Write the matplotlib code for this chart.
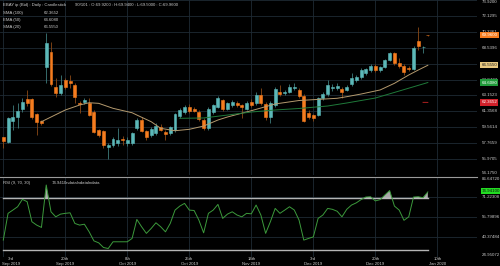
import matplotlib
matplotlib.use('Agg')
import matplotlib.pyplot as plt
import matplotlib.transforms as mtransforms

# ---------------- data ----------------
opens = [58.43, 57.93, 60.30, 60.68, 61.59, 62.72, 62.72, 61.02, 60.27, 66.33,
         68.05, 64.14, 63.39, 64.89, 64.81, 64.33, 62.33, 62.41, 62.33, 61.32,
         59.25, 59.17, 57.37, 57.56, 57.79, 58.24, 57.84, 57.84, 59.44, 60.38,
         59.14, 58.69, 58.86, 59.62, 58.99, 58.88, 59.25, 60.78, 61.32, 61.81,
         61.59, 61.32, 60.43, 59.44, 61.32, 61.88, 62.60, 61.62, 62.07, 62.30,
         62.02, 61.62, 62.45, 62.26, 63.20, 62.19, 60.75, 62.07, 63.54, 63.39,
         63.57, 63.99, 63.77, 63.09, 61.20, 60.94, 60.94, 62.83, 63.28, 63.96,
         63.96, 63.88, 63.77, 64.44, 64.89, 65.20, 65.65, 66.02, 66.47, 65.97,
         66.33, 67.15, 67.91, 66.85, 66.51, 66.28, 66.13, 69.29, 68.58, 70.00]
closes = [58.05, 60.57, 60.75, 61.43, 62.45, 62.26, 60.68, 60.19, 60.01, 69.03,
          64.44, 63.43, 64.33, 64.14, 64.59, 62.94, 62.19, 62.64, 60.94, 59.06,
          58.69, 57.56, 57.56, 58.20, 58.16, 58.07, 58.18, 58.88, 60.38, 59.17,
          58.50, 59.31, 59.70, 59.25, 58.80, 59.56, 61.02, 61.51, 61.88, 61.43,
          61.43, 60.46, 59.44, 61.59, 62.02, 62.83, 61.66, 62.26, 62.38, 62.07,
          61.85, 62.30, 62.07, 63.20, 62.26, 60.75, 62.30, 63.88, 63.31, 63.57,
          64.14, 64.14, 63.12, 60.30, 60.75, 60.64, 62.86, 63.28, 64.33, 64.14,
          64.22, 63.57, 64.10, 65.09, 65.27, 66.02, 66.10, 66.47, 66.02, 66.33,
          67.15, 67.91, 66.78, 66.51, 65.83, 66.13, 68.54, 68.76, 68.65, 69.96]
highs = [58.50, 60.70, 62.07, 62.30, 62.83, 63.77, 62.90, 61.20, 60.40, 70.20,
         69.18, 65.12, 65.46, 65.10, 65.46, 64.50, 62.50, 62.90, 62.86, 61.50,
         59.40, 59.30, 57.80, 58.50, 59.48, 58.60, 58.50, 59.00, 60.60, 60.70,
         59.30, 59.60, 60.00, 59.90, 59.20, 59.70, 61.20, 61.70, 62.10, 62.20,
         61.80, 61.50, 60.60, 61.80, 62.20, 63.10, 62.80, 62.40, 62.60, 62.50,
         62.20, 62.50, 62.70, 63.50, 63.99, 62.40, 62.50, 64.10, 64.33, 63.80,
         64.40, 64.56, 64.00, 63.30, 61.50, 61.10, 63.00, 63.50, 64.89, 64.40,
         64.50, 64.10, 64.30, 65.65, 65.50, 66.20, 66.30, 66.70, 66.70, 66.50,
         67.30, 68.10, 68.10, 67.38, 66.70, 66.50, 68.70, 70.91, 68.70, 70.02]
lows = [57.22, 57.80, 59.25, 59.48, 61.30, 62.00, 60.50, 58.69, 59.80, 64.56,
        64.20, 63.01, 63.20, 63.90, 63.99, 62.30, 61.17, 62.20, 60.80, 58.90,
        58.50, 57.22, 55.98, 57.30, 57.50, 57.60, 57.50, 57.60, 59.20, 59.00,
        58.12, 58.50, 58.70, 59.10, 58.12, 58.70, 59.00, 60.60, 61.10, 61.20,
        61.30, 60.30, 59.20, 59.30, 61.10, 61.70, 61.40, 61.50, 61.90, 61.90,
        60.60, 61.50, 61.90, 62.10, 62.10, 60.38, 60.08, 61.90, 63.10, 63.20,
        63.40, 63.80, 62.90, 60.10, 60.50, 60.27, 60.80, 62.60, 63.10, 63.70,
        63.80, 62.83, 63.60, 64.20, 64.70, 65.00, 65.50, 65.80, 65.80, 65.80,
        66.20, 67.00, 66.60, 66.30, 65.46, 65.90, 66.00, 68.28, 67.91, 69.90]

sma20_idx = [8, 13, 16, 18, 20, 23, 27, 28, 31, 33, 36, 39, 42, 45, 47, 52,
             57, 62, 70, 72, 75, 79, 82, 85, 87, 89]
sma20_val = [60.19, 61.51, 62.07, 62.33, 62.26, 61.70, 61.20, 60.94, 60.19,
             59.44, 59.17, 59.33, 59.70, 60.38, 60.72, 61.43, 62.19, 62.58,
             62.83, 63.01, 63.31, 63.77, 64.52, 65.46, 66.02, 66.555]
ema50_idx = [37, 42, 47, 52, 57, 62, 68, 72, 78, 83, 89]
ema50_val = [60.57, 60.61, 60.94, 61.28, 61.51, 61.68, 61.96, 62.30, 62.86,
             63.65, 64.608]
sma100_idx = [88, 89]
sma100_val = [62.37, 62.3652]

rsi = [37.7, 58.4, 60.9, 63.5, 69.2, 67.4, 51.9, 49.3, 47.5, 80.3,
       59.6, 55.7, 57.8, 58.4, 58.8, 50.6, 49.3, 50.0, 44.1, 37.1,
       35.6, 32.0, 31.2, 36.4, 36.4, 36.4, 36.4, 39.0, 53.7, 48.0,
       42.9, 46.7, 51.1, 48.0, 44.1, 50.6, 60.9, 64.0, 66.1, 60.9,
       60.6, 53.2, 43.3, 58.4, 60.9, 65.3, 54.5, 57.8, 59.6, 57.1,
       55.7, 58.4, 58.0, 64.8, 57.1, 42.9, 52.0, 62.2, 58.4, 60.9,
       63.5, 61.0, 53.2, 37.7, 39.0, 40.2, 54.5, 57.1, 62.2, 61.5,
       60.0, 55.7, 61.5, 64.8, 66.5, 69.0, 71.0, 71.2, 68.0, 69.0,
       72.6, 76.0, 64.0, 60.9, 53.0, 55.7, 71.0, 71.2, 70.5, 74.9410]

price_ticks = [54.1750, 55.9705, 57.7659, 59.5614, 61.3568, 63.1523,
               64.9477, 66.7432, 68.5396, 70.3361, 72.1295, 73.9200]
rsi_ticks = [24.95072, 40.37484, 55.79896, 71.22308, 86.64720]
date_pos = [0, 13, 26, 39, 52, 65, 78, 91]
date_days = ['3rd', '20th', '8th', '25th', '14th', '3rd', '20th', '10th']
date_months = ['Sep 2019', 'Sep 2019', 'Oct 2019', 'Oct 2019',
               'Nov 2019', 'Dec 2019', 'Dec 2019', 'Jan 2020']

# ---------------- style ----------------
BG = '#000000'
GRID = '#1e2a34'
TXT = '#cccccc'
TEAL = '#5cb8b8'
ORANGE = '#f57c1f'
FS = 3.1
FSR = 3.2
FAM = ['Liberation Sans Narrow', 'Liberation Sans', 'DejaVu Sans']
plt.rcParams['font.family'] = FAM

W, H = 500.0, 266.0
fig = plt.figure(figsize=(W / 100, H / 100), dpi=100, facecolor=BG)
ax = fig.add_axes([0, 91 / H, 477 / W, 175 / H], facecolor=BG)
ax2 = fig.add_axes([0, 9.4 / H, 477 / W, 79.8 / H], facecolor=BG)

n = len(opens)
xs = list(range(n))

# candles
cols = [TEAL if c >= o else ORANGE for o, c in zip(opens, closes)]
wick_cols = ['#3f7d7d' if c >= o else '#8c4a16' for o, c in zip(opens, closes)]
ax.vlines(xs, lows, highs, colors=wick_cols, linewidth=0.6, zorder=2)
bottoms = [min(o, c) for o, c in zip(opens, closes)]
heights = [abs(c - o) for o, c in zip(opens, closes)]
ax.bar(xs, heights, bottom=bottoms, width=0.62, color=cols, edgecolor=cols,
       linewidth=0.4, zorder=3)

# moving averages
ax.plot(sma20_idx, sma20_val, color='#b59a6e', linewidth=0.7, zorder=4)
ax.plot(ema50_idx, ema50_val, color='#1f7a3a', linewidth=0.7, zorder=4)
ax.plot(sma100_idx, sma100_val, color='#b02020', linewidth=0.7, zorder=4)

xlim = (-0.69, 99.31)
ax.set_xlim(*xlim)
ax.set_ylim(price_ticks[0], price_ticks[-1])
ax.set_yticks(price_ticks)
ax.set_xticks(date_pos)
ax.tick_params(left=False, bottom=False, labelleft=False, labelbottom=False)
ax.grid(True, color=GRID, linewidth=0.6)
for s in ax.spines.values():
    s.set_visible(False)

# value boxes (last values of each series)
boxes = [(closes[-1], '#f57c1f', '#ffffff'),
         (sma20_val[-1], '#e8c880', '#202020'),
         (ema50_val[-1], '#1f9a3a', '#ffffff'),
         (sma100_val[-1], '#d0202a', '#ffffff')]

# right-side price labels (those hidden behind a box in the reference are skipped)
tr = mtransforms.blended_transform_factory(fig.transFigure, ax.transData)
for i, v in enumerate(price_ticks):
    if any(abs(v - b[0]) < 0.3 for b in boxes):
        continue
    va = 'center'
    if i == 0:
        va = 'bottom'
    if i == len(price_ticks) - 1:
        va = 'top'
    ax.text(481.5 / W, v, '%.4f' % v, transform=tr, color=TXT, fontsize=FSR,
            va=va, ha='left', clip_on=False)

for v, fc, tc in boxes:
    ax.text(481.5 / W, v, '%.4f' % v, transform=tr, color=tc, fontsize=FSR,
            va='center', ha='left', clip_on=False, zorder=6,
            bbox=dict(boxstyle='square,pad=0.25', fc=fc, ec='none'))

# headers
def ftext(x, y, s, **kw):
    fig.text(x / W, 1 - y / H, s, color=TXT, fontsize=FS, va='center', ha='left', **kw)

ftext(3, 5, 'EBAY ip (Bid) : Daily : Candlestick')
ftext(75, 5, '90/101 : O:69.9200 : H:69.9400 : L:69.5000 : C:69.9600')
ftext(3, 12.7, 'SMA (100)')
ftext(44, 12.7, '%.4f' % sma100_val[-1])
ftext(3, 20, 'EMA (50)')
ftext(44, 20, '%.4f' % ema50_val[-1])
ftext(3, 26.7, 'SMA (20)')
ftext(44, 26.7, '%.4f' % sma20_val[-1])

# ---------------- RSI panel ----------------
ax2.plot(xs, rsi, color='#3c9a3c', linewidth=0.7, zorder=4)
ax2.fill_between(xs, rsi, 70, where=[r > 70 for r in rsi], interpolate=True,
                 color='#c8c8c8', alpha=0.85, zorder=3, linewidth=0)
ax2.plot([0, n - 1], [70, 70], color='#b4b4b4', linewidth=1.0, zorder=2)
ax2.plot([0, n - 1], [30, 30], color='#b4b4b4', linewidth=1.0, zorder=2)
ax2.set_xlim(*xlim)
ax2.set_ylim(rsi_ticks[0], rsi_ticks[-1])
ax2.set_yticks(rsi_ticks)
ax2.set_xticks(date_pos)
ax2.tick_params(left=False, bottom=False, labelleft=False, labelbottom=False)
ax2.grid(True, color=GRID, linewidth=0.6)
for s in ax2.spines.values():
    s.set_visible(False)
ax2.spines['top'].set_visible(True)
ax2.spines['top'].set_color('#9a9a9a')
ax2.spines['top'].set_linewidth(0.8)

# date labels under the RSI panel (first one is kept inside the figure)
trx = mtransforms.blended_transform_factory(fig.transFigure, fig.transFigure)
for p, d, m in zip(date_pos, date_days, date_months):
    px = ax2.transData.transform((p, 0))[0]
    px = max(px, 11.0)
    ax2.text(px / W, 1 - 259.5 / H, d, transform=trx, color=TXT, fontsize=FS,
             ha='center', va='center', clip_on=False)
    ax2.text(px / W, 1 - 264 / H, m, transform=trx, color=TXT, fontsize=FS,
             ha='center', va='center', clip_on=False)

tr2 = mtransforms.blended_transform_factory(fig.transFigure, ax2.transData)
for i, v in enumerate(rsi_ticks):
    va = 'center'
    if i == 0:
        va = 'bottom'
    if i == len(rsi_ticks) - 1:
        va = 'top'
    ax2.text(481.5 / W, v, '%.5f' % v, transform=tr2, color=TXT, fontsize=FSR,
             va=va, ha='left', clip_on=False)
ax2.text(481.5 / W, rsi[-1] + 0.6, '%.5f' % rsi[-1], transform=tr2, color='#101010',
         fontsize=FSR, va='center', ha='left', clip_on=False, zorder=6,
         bbox=dict(boxstyle='square,pad=0.15', fc='#22dd22', ec='none'))
ftext(3, 183.3, 'RSI (9, 70, 30)')
ftext(52, 183.3, '74.9410ndatalndatalndata')

fig.savefig('out.png', dpi=100, facecolor=BG)
